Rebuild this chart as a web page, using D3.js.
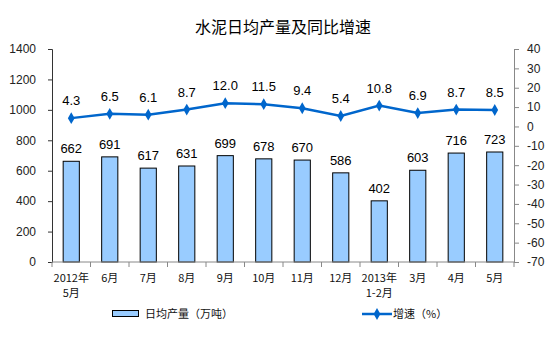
<!DOCTYPE html>
<html>
<head>
<meta charset="utf-8">
<script src="https://cdn.jsdelivr.net/npm/d3@7/dist/d3.min.js"></script>
<style>
  html, body { margin: 0; padding: 0; background: #fff; }
  svg { display: block; }
  text { font-family: Arial, "Liberation Sans", "Noto Sans CJK SC", sans-serif; }
  .cjk { font-family: "Noto Sans CJK SC", sans-serif; }
</style>
</head>
<body>
<svg id="chart" width="560" height="350"></svg>
<script>
// Monthly cement output (daily average, 10k tonnes) and year-on-year growth (%)
const categories = ["2012年\n5月", "6月", "7月", "8月", "9月", "10月", "11月", "12月", "2013年\n1-2月", "3月", "4月", "5月"];
const output = [662, 691, 617, 631, 699, 678, 670, 586, 402, 603, 716, 723];
const growth = [4.3, 6.5, 6.1, 8.7, 12.0, 11.5, 9.4, 5.4, 10.8, 6.9, 8.7, 8.5];
const leftTicks = [0, 200, 400, 600, 800, 1000, 1200, 1400];
const rightTicks = [40, 30, 20, 10, 0, -10, -20, -30, -40, -50, -60, -70];

const svg = d3.select("#chart");
const plot = { left: 52, right: 514, top: 49, bottom: 262 };

const x = d3.scaleBand().domain(d3.range(categories.length))
  .range([plot.left, plot.right]).paddingInner(0.58).paddingOuter(0.29);
const xOuter = d3.scaleBand().domain(d3.range(categories.length))
  .range([plot.left, plot.right]);
const yL = d3.scaleLinear().domain([0, 1400]).range([plot.bottom, plot.top]);
const yR = d3.scaleLinear().domain([-70, 40]).range([plot.bottom, plot.top]);
const plain = d => String(d); // hyphen-minus, no thousands separator

// Title
svg.append("text").attr("class", "cjk")
  .attr("x", 283).attr("y", 33).attr("text-anchor", "middle")
  .attr("font-size", 16).attr("fill", "#000")
  .text("水泥日均产量及同比增速");

// Bars
svg.append("g").selectAll("rect").data(output).join("rect")
  .attr("x", (d, i) => x(i))
  .attr("y", d => yL(d))
  .attr("width", x.bandwidth())
  .attr("height", d => yL(0) - yL(d))
  .attr("fill", "#99CCFF")
  .attr("stroke", "#000").attr("stroke-width", 1);

// Bar value labels
svg.append("g").selectAll("text").data(output).join("text")
  .attr("x", (d, i) => x(i) + x.bandwidth() / 2)
  .attr("y", d => yL(d) - 8)
  .attr("text-anchor", "middle").attr("font-size", 13).attr("fill", "#000")
  .text(d => d);

// Left axis
const axL = svg.append("g").attr("transform", `translate(${plot.left},0)`)
  .call(d3.axisLeft(yL).tickValues(leftTicks).tickFormat(plain).tickSize(4).tickPadding(12));
axL.select(".domain").attr("stroke", "#333");
axL.selectAll(".tick line").attr("stroke", "#333");
axL.selectAll(".tick text").attr("font-size", 12).attr("fill", "#222")
  .style("font-family", "Arial, 'Liberation Sans', sans-serif");

// Right axis
const axR = svg.append("g").attr("transform", `translate(${plot.right},0)`)
  .call(d3.axisRight(yR).tickValues(rightTicks).tickFormat(plain).tickSize(5).tickPadding(8));
axR.select(".domain").attr("stroke", "#888");
axR.selectAll(".tick line").attr("stroke", "#888");
axR.selectAll(".tick text").attr("font-size", 12).attr("fill", "#222")
  .style("font-family", "Arial, 'Liberation Sans', sans-serif");

// Category axis with separators between groups
const axB = svg.append("g").attr("transform", `translate(0,${plot.bottom})`);
axB.append("line").attr("x1", plot.left).attr("x2", plot.right)
  .attr("stroke", "#888");
axB.selectAll("line.sep").data(d3.range(categories.length + 1)).join("line")
  .attr("class", "sep")
  .attr("x1", i => plot.left + i * xOuter.step())
  .attr("x2", i => plot.left + i * xOuter.step())
  .attr("y1", 0).attr("y2", 5).attr("stroke", "#888");
categories.forEach((label, i) => {
  label.split("\n").forEach((part, j) => {
    axB.append("text").attr("class", "cjk")
      .attr("x", xOuter(i) + xOuter.bandwidth() / 2)
      .attr("y", 20 + j * 15)
      .attr("text-anchor", "middle").attr("font-size", 11).attr("fill", "#111")
      .text(part);
  });
});

// Growth line
const line = d3.line()
  .x((d, i) => xOuter(i) + xOuter.bandwidth() / 2)
  .y(d => yR(d));
svg.append("path").datum(growth).attr("d", line)
  .attr("fill", "none").attr("stroke", "#0066CC").attr("stroke-width", 2.5);
const diamond = d3.symbol().type(d3.symbolDiamond).size(40);
svg.append("g").selectAll("path").data(growth).join("path")
  .attr("d", diamond)
  .attr("transform", (d, i) => `translate(${xOuter(i) + xOuter.bandwidth() / 2},${yR(d)})`)
  .attr("fill", "#0066CC");
svg.append("g").selectAll("text").data(growth).join("text")
  .attr("x", (d, i) => xOuter(i) + xOuter.bandwidth() / 2)
  .attr("y", d => yR(d) - 13)
  .attr("text-anchor", "middle").attr("font-size", 13).attr("fill", "#000")
  .text(d => d.toFixed(1));

// Legend
const lg = svg.append("g");
lg.append("rect").attr("x", 112.5).attr("y", 310.5).attr("width", 26).attr("height", 6)
  .attr("fill", "#99CCFF").attr("stroke", "#000");
lg.append("text").attr("class", "cjk").attr("x", 145).attr("y", 318)
  .attr("font-size", 11).attr("fill", "#111").text("日均产量（万吨）");
lg.append("line").attr("x1", 362).attr("x2", 392).attr("y1", 314).attr("y2", 314)
  .attr("stroke", "#0066CC").attr("stroke-width", 2.5);
lg.append("path").attr("d", diamond).attr("transform", "translate(377,314)")
  .attr("fill", "#0066CC");
lg.append("text").attr("class", "cjk").attr("x", 393).attr("y", 318)
  .attr("font-size", 11).attr("fill", "#111").text("增速（%）");
</script>
</body>
</html>
